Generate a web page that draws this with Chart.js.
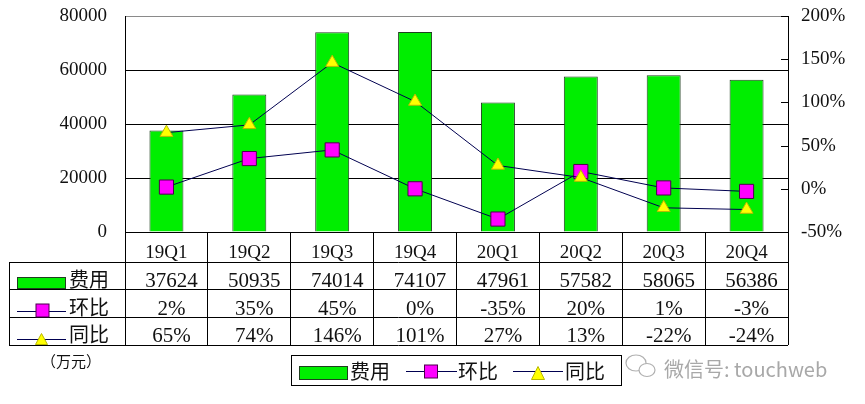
<!DOCTYPE html>
<html>
<head>
<meta charset="utf-8">
<script src="https://cdn.jsdelivr.net/npm/chart.js@4/dist/chart.umd.min.js"></script>
<style>
  html, body { margin: 0; padding: 0; background: #fff; }
  #wrap { width: 865px; height: 404px; }
</style>
</head>
<body>
<div id="wrap"><canvas id="c" width="865" height="404"></canvas></div>
<script>
// quarters and values
const quarters = ['19Q1', '19Q2', '19Q3', '19Q4', '20Q1', '20Q2', '20Q3', '20Q4'];
const costs = [37624, 50935, 74014, 74107, 47961, 57582, 58065, 56386];   // 费用 (万元)
const qoq = [2, 35, 45, 0, -35, 20, 1, -3];          // 环比 %
const yoy = [65, 74, 146, 101, 27, 13, -22, -24];    // 同比 %
const seriesNames = ['费用', '环比', '同比'];
const unitLabel = '（万元）';
const watermark = '微信号: touchweb';

const GREEN = '#00ee00';
const GREEN_EDGE = '#1f3f1f';
const MAGENTA = '#ff00ff';
const YELLOW = '#ffff00';
const LINE = '#000050';
const NUM_FONT = '"Liberation Serif", serif';
const CJK_FONT = '"Noto Sans CJK SC", sans-serif';

function drawSquare(ctx, cx, cy, s) {
  ctx.fillStyle = MAGENTA;
  ctx.strokeStyle = '#4b004b';
  ctx.lineWidth = 1;
  ctx.fillRect(cx - s / 2, cy - s / 2, s, s);
  ctx.strokeRect(cx - s / 2, cy - s / 2, s, s);
}

function drawTriangle(ctx, cx, bottom, w, h) {
  ctx.fillStyle = YELLOW;
  ctx.strokeStyle = '#b8b800';
  ctx.lineWidth = 1;
  ctx.beginPath();
  ctx.moveTo(cx, bottom - h);
  ctx.lineTo(cx + w / 2, bottom);
  ctx.lineTo(cx - w / 2, bottom);
  ctx.closePath();
  ctx.fill();
  ctx.stroke();
}

function hline(ctx, x1, x2, y) {
  ctx.beginPath();
  ctx.moveTo(x1, y);
  ctx.lineTo(x2, y);
  ctx.stroke();
}

const pct = v => v + '%';

// keep the plot area where the reference has it
function fixWidth(w) {
  return s => {
    s.width = w;
    s.paddingTop = 0;
    s.paddingBottom = 0;
  };
}

// data table under the axis, legend box, right-axis inner ticks, watermark
const extras = {
  id: 'extras',
  afterDraw(chart) {
    const ctx = chart.ctx;
    const area = chart.chartArea;
    const x = chart.scales.x;
    const y1 = chart.scales.y1;
    ctx.save();

    // inner ticks of the percent axis
    ctx.strokeStyle = '#000';
    ctx.lineWidth = 1;
    y1.ticks.forEach(t => {
      const py = Math.round(y1.getPixelForValue(t.value)) + 0.5;
      hline(ctx, area.right - 7, area.right, py);
    });

    // table frame
    const rows = [262.5, 289.5, 317.5, 345.5];
    rows.forEach(r => hline(ctx, 9, area.right, r));
    ctx.beginPath();
    ctx.moveTo(9.5, rows[0]);
    ctx.lineTo(9.5, rows[3]);
    ctx.stroke();

    // row keys
    ctx.fillStyle = GREEN;
    ctx.fillRect(17, 277, 49, 12);
    ctx.strokeStyle = GREEN_EDGE;
    ctx.strokeRect(17.5, 277.5, 48, 11);
    ctx.strokeStyle = LINE;
    hline(ctx, 17, 66, 311.5);
    drawSquare(ctx, 42.5, 310.5, 13);
    ctx.strokeStyle = LINE;
    hline(ctx, 17, 66, 339.5);
    drawTriangle(ctx, 41.5, 344.5, 12, 11);

    ctx.fillStyle = '#111';
    ctx.textAlign = 'left';
    ctx.textBaseline = 'alphabetic';
    ctx.font = '20px ' + CJK_FONT;
    ctx.fillText(seriesNames[0], 69, 286.5);
    ctx.fillText(seriesNames[1], 69, 315);
    ctx.fillText(seriesNames[2], 69, 341.5);

    // row values
    ctx.textAlign = 'center';
    ctx.font = '21px ' + NUM_FONT;
    quarters.forEach((q, i) => {
      const cx = x.getPixelForValue(i) + 5;
      ctx.fillText(String(costs[i]), cx, 286.5);
      ctx.fillText(pct(qoq[i]), cx, 315);
      ctx.fillText(pct(yoy[i]), cx, 342);
    });

    // unit
    ctx.textAlign = 'left';
    ctx.font = '15px ' + CJK_FONT;
    ctx.fillText(unitLabel, 41, 367);

    // legend box
    ctx.strokeStyle = '#000';
    ctx.strokeRect(291.5, 355.5, 330, 30);
    ctx.fillStyle = GREEN;
    ctx.fillRect(299, 366, 49, 14);
    ctx.strokeStyle = GREEN_EDGE;
    ctx.strokeRect(299.5, 366.5, 48, 13);
    ctx.strokeStyle = LINE;
    hline(ctx, 406, 457, 371.5);
    drawSquare(ctx, 431, 371.5, 13);
    ctx.strokeStyle = LINE;
    hline(ctx, 513, 563, 371.5);
    drawTriangle(ctx, 538, 379.5, 13, 13);
    ctx.fillStyle = '#111';
    ctx.font = '20px ' + CJK_FONT;
    ctx.fillText(seriesNames[0], 350, 379);
    ctx.fillText(seriesNames[1], 458, 379);
    ctx.fillText(seriesNames[2], 565, 379);

    // watermark
    ctx.strokeStyle = '#b0b0b0';
    ctx.lineWidth = 1.2;
    ctx.beginPath();
    ctx.ellipse(636, 363, 10, 8, 0, 0, Math.PI * 2);
    ctx.stroke();
    ctx.fillStyle = '#fff';
    ctx.beginPath();
    ctx.ellipse(647, 370, 8, 6.5, 0, 0, Math.PI * 2);
    ctx.fill();
    ctx.stroke();
    ctx.fillStyle = '#a8a8a8';
    ctx.font = '20px ' + CJK_FONT;
    ctx.fillText(watermark, 664, 377);

    ctx.restore();
  }
};

new Chart(document.getElementById('c'), {
  type: 'bar',
  data: {
    labels: quarters,
    datasets: [
      {
        type: 'line',
        label: seriesNames[2],
        data: yoy,
        yAxisID: 'y1',
        borderColor: LINE,
        borderWidth: 1,
        pointStyle: 'triangle',
        pointRadius: 7.5,
        pointBackgroundColor: YELLOW,
        pointBorderColor: '#b8b800',
        pointBorderWidth: 1,
        tension: 0,
        order: 1
      },
      {
        type: 'line',
        label: seriesNames[1],
        data: qoq,
        yAxisID: 'y1',
        borderColor: LINE,
        borderWidth: 1,
        pointStyle: 'rect',
        pointRadius: 10,
        pointBackgroundColor: MAGENTA,
        pointBorderColor: '#4b004b',
        pointBorderWidth: 1,
        tension: 0,
        order: 2
      },
      {
        type: 'bar',
        label: seriesNames[0],
        data: costs,
        yAxisID: 'y',
        backgroundColor: GREEN,
        borderColor: GREEN_EDGE,
        borderWidth: 1,
        categoryPercentage: 1,
        barPercentage: 0.41,
        order: 3
      }
    ]
  },
  options: {
    responsive: false,
    animation: false,
    layout: { padding: { top: 16, left: 0, right: 0, bottom: 0 } },
    plugins: {
      legend: { display: false },
      tooltip: { enabled: false }
    },
    scales: {
      x: {
        offset: true,
        afterFit: s => { s.height = 172; },
        border: { display: true, color: '#000', width: 1 },
        grid: { offset: true, drawOnChartArea: false, color: '#000', tickLength: 113 },
        ticks: { color: '#111', padding: -103, font: { family: 'Liberation Serif', size: 19 } }
      },
      y: {
        position: 'left',
        min: 0,
        max: 80000,
        afterFit: fixWidth(125),
        border: { display: true, color: '#000', width: 1 },
        grid: {
          drawTicks: false,
          color: c => (c.tick && c.tick.value === 80000 ? '#8a8a8a' : '#000')
        },
        ticks: {
          stepSize: 20000,
          padding: 18,
          color: '#111',
          font: { family: 'Liberation Serif', size: 19 },
          callback: v => String(v)
        }
      },
      y1: {
        position: 'right',
        min: -50,
        max: 200,
        afterFit: fixWidth(77),
        border: { display: true, color: '#000', width: 1 },
        grid: { drawOnChartArea: false, drawTicks: false },
        ticks: {
          stepSize: 50,
          padding: 13,
          color: '#111',
          font: { family: 'Liberation Serif', size: 19 },
          callback: v => v + '%'
        }
      }
    }
  },
  plugins: [extras]
});
</script>
</body>
</html>
